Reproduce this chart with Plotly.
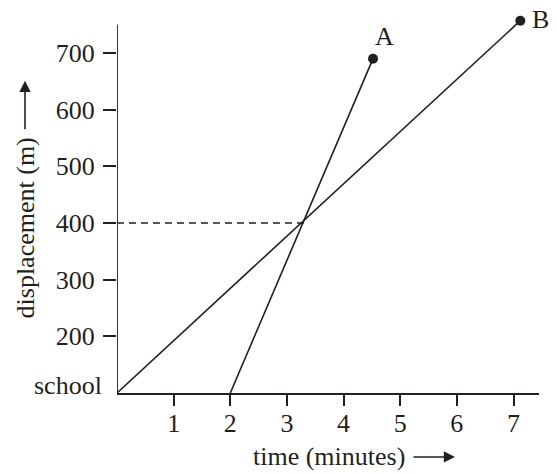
import plotly.graph_objects as go

# Data
line_a_time = [2, 4.52]
line_a_disp = [100, 690]
line_b_time = [0, 7.12]
line_b_disp = [100, 757]
meet_time = 3.3
meet_disp = 400
x_ticks = [1, 2, 3, 4, 5, 6, 7]
y_ticks = [200, 300, 400, 500, 600, 700]
y_ticktext = ["200", "300", "400", "500", "600", "700"]
origin_label = "school"
y_axis_top = 750

FONT = "Liberation Serif"
FS = 26
BLACK = "#231f20"

fig = go.Figure()

# dashed guide at meeting point
fig.add_trace(go.Scatter(x=[0, meet_time], y=[meet_disp, meet_disp], mode="lines",
                         line=dict(color=BLACK, width=1.3, dash="7px,5px"),
                         hoverinfo="skip", showlegend=False))
fig.add_trace(go.Scatter(x=line_b_time, y=line_b_disp, mode="lines",
                         line=dict(color=BLACK, width=1.6), showlegend=False, cliponaxis=False))
fig.add_trace(go.Scatter(x=line_a_time, y=line_a_disp, mode="lines",
                         line=dict(color=BLACK, width=1.6), showlegend=False, cliponaxis=False))
fig.add_trace(go.Scatter(x=[line_a_time[-1], line_b_time[-1]], y=[line_a_disp[-1], line_b_disp[-1]],
                         mode="markers", marker=dict(color=BLACK, size=10),
                         showlegend=False, cliponaxis=False))

# y axis line (stops at the top of the axis)
fig.add_shape(type="line", xref="x", yref="y", x0=0, x1=0, y0=100, y1=y_axis_top,
              line=dict(color=BLACK, width=1.8))

annotations = [
    dict(x=line_a_time[-1], y=line_a_disp[-1], xref="x", yref="y", text="A", showarrow=False,
         xshift=11, yshift=22, font=dict(family=FONT, size=FS, color=BLACK)),
    dict(x=line_b_time[-1], y=line_b_disp[-1], xref="x", yref="y", text="B", showarrow=False,
         xshift=20, yshift=1, font=dict(family=FONT, size=FS, color=BLACK)),
    dict(x=0, y=100, xref="x", yref="y", text=origin_label, showarrow=False,
         xanchor="right", xshift=-13, yshift=8, font=dict(family=FONT, size=FS, color=BLACK)),
    dict(x=0.502, y=-0.171, xref="paper", yref="paper", text="time (minutes)", showarrow=False,
         xanchor="center", yanchor="middle", font=dict(family=FONT, size=FS, color=BLACK)),
    dict(x=-0.218, y=0.44, xref="paper", yref="paper", text="displacement (m)", showarrow=False,
         textangle=-90, xanchor="center", yanchor="middle", font=dict(family=FONT, size=FS, color=BLACK)),
    # arrows
    dict(x=0.801, y=-0.171, xref="paper", yref="paper", text="", showarrow=True,
         ax=-43, ay=0, arrowhead=2, arrowsize=1.4, arrowwidth=1.6, arrowcolor=BLACK),
    dict(x=-0.218, y=0.835, xref="paper", yref="paper", text="", showarrow=True,
         ax=0, ay=50, arrowhead=2, arrowsize=1.4, arrowwidth=1.6, arrowcolor=BLACK),
]

fig.update_layout(
    width=557, height=474,
    margin=dict(l=117, r=18, t=19, b=81),
    plot_bgcolor="white", paper_bgcolor="white",
    showlegend=False,
    hovermode=False,
    annotations=annotations,
    xaxis=dict(range=[0, 7.45], tickvals=x_ticks, ticks="outside", ticklen=11, tickwidth=1.6,
               tickcolor=BLACK, showline=True, linecolor=BLACK, linewidth=1.8, showgrid=False,
               zeroline=False, ticklabelstandoff=-5,
               tickfont=dict(family=FONT, size=FS, color=BLACK)),
    yaxis=dict(range=[100, 760], tickvals=y_ticks, ticktext=y_ticktext, ticks="outside", ticklen=13,
               tickwidth=1.6, tickcolor=BLACK, showline=False, showgrid=False, zeroline=False,
               ticklabelstandoff=3,
               tickfont=dict(family=FONT, size=FS, color=BLACK)),
)

fig.write_html("out.html", config={"displayModeBar": False},
               post_script="document.body.style.margin='0';")
